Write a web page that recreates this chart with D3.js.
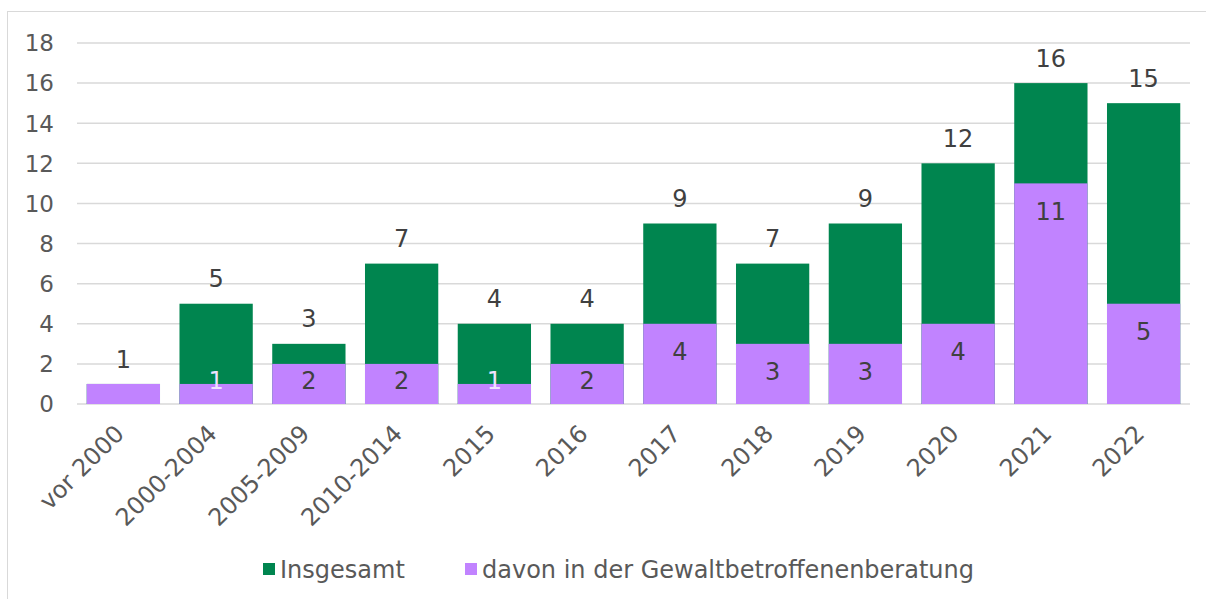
<!DOCTYPE html>
<html>
<head>
<meta charset="utf-8">
<script src="https://cdn.jsdelivr.net/npm/d3@7"></script>
<style>
  body { margin: 0; background: #fff; }
  text { font-family: "DejaVu Sans", Verdana, sans-serif; }
</style>
</head>
<body>
<svg id="chart" width="1206" height="599"></svg>
<script>
const categories = ["vor 2000", "2000-2004", "2005-2009", "2010-2014", "2015", "2016",
                    "2017", "2018", "2019", "2020", "2021", "2022"];
const insgesamt = [1, 5, 3, 7, 4, 4, 9, 7, 9, 12, 16, 15];
const beratung  = [1, 1, 2, 2, 1, 2, 4, 3, 3, 4, 11, 5];
const yTicks = [0, 2, 4, 6, 8, 10, 12, 14, 16, 18];
const seriesNames = ["Insgesamt", "davon in der Gewaltbetroffenenberatung"];

const green = "#00854f", purple = "#c183ff";
const grid = "#d9d9d9", tickColor = "#595959", labelColor = "#404040";

const svg = d3.select("#chart");
const margin = {top: 43, right: 16, bottom: 195, left: 77};
const width = 1206, height = 599;

// chart frame
svg.append("rect")
  .attr("x", 7.5).attr("y", 11.5)
  .attr("width", width).attr("height", height)
  .attr("fill", "none").attr("stroke", grid);

const x = d3.scaleBand()
  .domain(categories)
  .range([margin.left, width - margin.right])
  .paddingInner(0.21).paddingOuter(0.105);

const y = d3.scaleLinear()
  .domain([0, 18])
  .range([height - margin.bottom, margin.top]);

// gridlines
svg.append("g")
  .selectAll("line")
  .data(yTicks)
  .join("line")
  .attr("x1", margin.left).attr("x2", width - margin.right)
  .attr("y1", d => y(d)).attr("y2", d => y(d))
  .attr("stroke", grid).attr("stroke-width", 1.5);

// y tick labels
svg.append("g")
  .selectAll("text")
  .data(yTicks)
  .join("text")
  .attr("x", 54).attr("y", d => y(d))
  .attr("dy", "0.36em")
  .attr("text-anchor", "end")
  .attr("fill", tickColor)
  .attr("font-size", 23)
  .text(d => d);

// bars
const rows = categories.map((c, i) => ({c, total: insgesamt[i], sub: beratung[i]}));

svg.append("g")
  .selectAll("rect")
  .data(rows)
  .join("rect")
  .attr("x", d => x(d.c)).attr("width", x.bandwidth())
  .attr("y", d => y(d.total)).attr("height", d => y(0) - y(d.total))
  .attr("fill", green);

svg.append("g")
  .selectAll("rect")
  .data(rows)
  .join("rect")
  .attr("x", d => x(d.c)).attr("width", x.bandwidth())
  .attr("y", d => y(d.sub)).attr("height", d => y(0) - y(d.sub))
  .attr("fill", purple);

// total labels above bars
svg.append("g")
  .selectAll("text")
  .data(rows)
  .join("text")
  .attr("x", d => x(d.c) + x.bandwidth() / 2)
  .attr("y", d => y(d.total) - 25)
  .attr("dy", "0.36em")
  .attr("text-anchor", "middle")
  .attr("fill", labelColor)
  .attr("font-size", 24)
  .text(d => d.total);

// sub labels inside purple bars
const subY = d => Math.min(y(d.sub) + 28, y(0) - 24);
svg.append("g")
  .selectAll("text")
  .data(rows.filter(d => d.sub < d.total))
  .join("text")
  .attr("x", d => x(d.c) + x.bandwidth() / 2)
  .attr("y", subY)
  .attr("dy", "0.36em")
  .attr("text-anchor", "middle")
  .attr("fill", d => subY(d) < y(d.sub) ? "#efe2ff" : labelColor)
  .attr("font-size", 24)
  .text(d => d.sub);

// x tick labels, rotated
svg.append("g")
  .selectAll("text")
  .data(categories)
  .join("text")
  .attr("transform", d => `translate(${x(d) + x.bandwidth() / 2 - 4},${y(0) + 25}) rotate(-45)`)
  .attr("text-anchor", "end")
  .attr("dy", "0.36em")
  .attr("fill", tickColor)
  .attr("font-size", 24)
  .text(d => d);

// legend
const legend = svg.append("g");
const legendItems = [
  {name: seriesNames[0], color: green, x: 263},
  {name: seriesNames[1], color: purple, x: 465}
];
legend.selectAll("rect")
  .data(legendItems)
  .join("rect")
  .attr("x", d => d.x).attr("y", 563)
  .attr("width", 12).attr("height", 12)
  .attr("fill", d => d.color);
legend.selectAll("text")
  .data(legendItems)
  .join("text")
  .attr("x", d => d.x + 17).attr("y", 569)
  .attr("dy", "0.36em")
  .attr("fill", tickColor)
  .attr("font-size", 24)
  .text(d => d.name);
</script>
</body>
</html>
